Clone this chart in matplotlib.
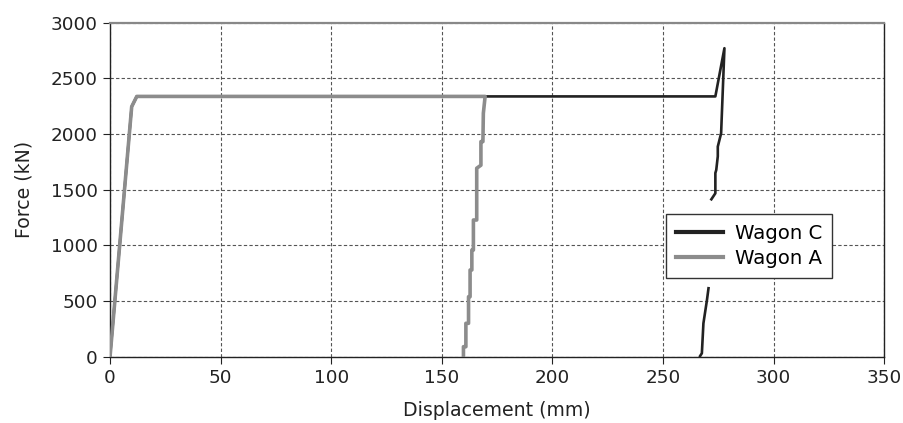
import matplotlib.pyplot as plt
import numpy as np

plt.rcParams['font.family'] = ['DejaVu Sans']

# Wagon C: loading, plateau, peak, unloading (upper part), then lower part
wagon_c_x = [0, 9.8, 12.1, 273.7, 277.8, 276.3, 274.8, 274.8, 274.1, 273.7, 273.7, 271.9,
             np.nan, 270.6, 269.9, 268.3, 267.6, 266.8]
wagon_c_f = [0, 2246, 2338, 2338, 2771, 2007, 1887, 1800, 1677, 1650, 1468, 1414,
             np.nan, 615, 509, 300, 31, 6]

# Wagon A: loading, plateau, stepwise unloading
wagon_a_x = [0, 9.8, 12.1, 169.6, 168.8, 168.6, 167.7, 167.7, 165.8, 165.8, 164.3, 164.3,
             163.6, 163.6, 162.8, 162.8, 162.1, 162.1, 160.9, 160.9, 159.8, 159.8]
wagon_a_f = [0, 2246, 2338, 2338, 2187, 1932, 1932, 1720, 1693, 1228, 1228, 958,
             958, 779, 779, 539, 539, 300, 300, 90, 90, 0]

x_ticks = [0, 50, 100, 150, 200, 250, 300, 350]
y_ticks = [0, 500, 1000, 1500, 2000, 2500, 3000]

fig = plt.figure(figsize=(9.04, 4.23), dpi=100)
ax = fig.add_axes([0.1217, 0.1567, 0.8563, 0.7896])

ax.plot(wagon_c_x, wagon_c_f, color='#222222', lw=1.9, label='Wagon C', zorder=3)
ax.plot(wagon_a_x, wagon_a_f, color='#8c8c8c', lw=2.6, label='Wagon A', zorder=4)

ax.set_xlim(0, 350)
ax.set_ylim(0, 3000)
ax.set_xticks(x_ticks)
ax.set_yticks(y_ticks)
ax.tick_params(direction='out', length=5, width=0.8, labelsize=13.2, colors='#222222', pad=4)
ax.grid(True, color='#555555', lw=0.8, linestyle=(0, (3, 2)))
ax.set_axisbelow(True)

for s in ['left', 'bottom', 'right']:
    ax.spines[s].set_color('#222222')
    ax.spines[s].set_linewidth(1.0)
ax.spines['top'].set_color('#888888')
ax.spines['top'].set_linewidth(1.6)

ax.set_xlabel('Displacement (mm)', fontsize=13.6, color='#222222', labelpad=10)
ax.set_ylabel('Force (kN)', fontsize=13.6, color='#222222', labelpad=12)

leg = ax.legend(loc='upper left', bbox_to_anchor=(0.718, 0.426), fontsize=14.2,
                frameon=True, fancybox=False, edgecolor='#333333', framealpha=1,
                handlelength=2.4, handletextpad=0.6, borderpad=0.5, labelspacing=0.3,
                borderaxespad=0)
leg.get_frame().set_linewidth(1.0)
for line in leg.get_lines():
    line.set_linewidth(3)

fig.savefig('out.png', dpi=100)
